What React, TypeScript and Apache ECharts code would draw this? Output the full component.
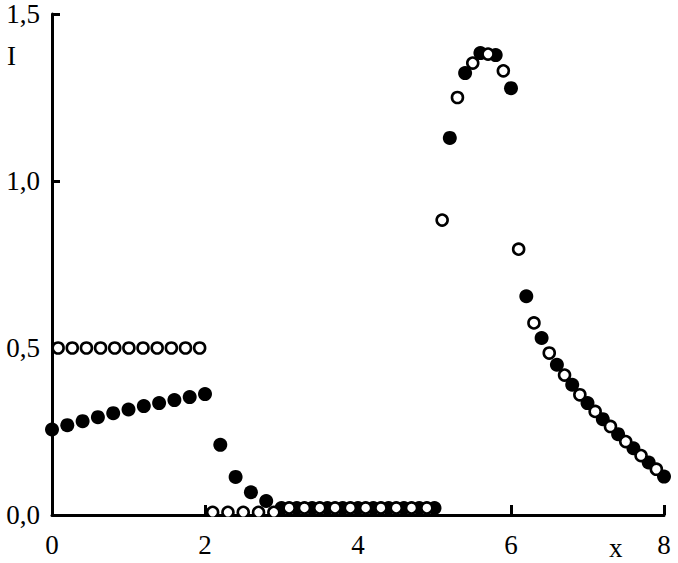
import React, { useEffect, useRef } from "react";
import * as echarts from "echarts";

// Filled circles: [x, I]
const filledPoints: [number, number][] = [
  [0, 0.256], [0.2, 0.269], [0.4, 0.281], [0.6, 0.293], [0.8, 0.305], [1.0, 0.316],
  [1.2, 0.326], [1.4, 0.335], [1.6, 0.344], [1.8, 0.353], [2.0, 0.362],
  [2.2, 0.21], [2.4, 0.114], [2.6, 0.068], [2.8, 0.042],
  [3.0, 0.021], [3.2, 0.021], [3.4, 0.021], [3.6, 0.021], [3.8, 0.021], [4.0, 0.021],
  [4.2, 0.021], [4.4, 0.021], [4.6, 0.021], [4.8, 0.021], [5.0, 0.021],
  [5.2, 1.129], [5.4, 1.323], [5.6, 1.383], [5.8, 1.377], [6.0, 1.278],
  [6.2, 0.655], [6.4, 0.53], [6.6, 0.45], [6.8, 0.39], [7.0, 0.335], [7.2, 0.287],
  [7.4, 0.242], [7.6, 0.2], [7.8, 0.157], [8.0, 0.115],
];

// Open circles: [x, I]
const openPoints: [number, number][] = [
  [0.08, 0.5], [0.265, 0.5], [0.45, 0.5], [0.635, 0.5], [0.82, 0.5], [1.005, 0.5],
  [1.19, 0.5], [1.375, 0.5], [1.56, 0.5], [1.745, 0.5], [1.93, 0.5],
  [2.1, 0.008], [2.3, 0.008], [2.5, 0.008], [2.7, 0.008], [2.9, 0.008],
  [3.1, 0.021], [3.3, 0.021], [3.5, 0.021], [3.7, 0.021], [3.9, 0.021],
  [4.1, 0.021], [4.3, 0.021], [4.5, 0.021], [4.7, 0.021], [4.9, 0.021],
  [5.1, 0.883], [5.3, 1.25], [5.5, 1.353], [5.7, 1.38], [5.9, 1.33],
  [6.1, 0.796], [6.3, 0.575], [6.5, 0.485], [6.7, 0.419], [6.9, 0.36], [7.1, 0.31],
  [7.3, 0.265], [7.5, 0.22], [7.7, 0.178], [7.9, 0.137],
];

const xTicks = { min: 0, max: 8, interval: 2 };
const yTicks = { min: 0, max: 1.5, interval: 0.5 };
const xName = "x";
const yName = "I";

const FONT = "'Liberation Serif', 'DejaVu Serif', serif";

export default function App() {
  const ref = useRef<HTMLDivElement>(null);

  useEffect(() => {
    document.body.style.margin = "0";
    if (!ref.current) return;
    const chart = echarts.init(ref.current, null, { renderer: "svg" });
    chart.setOption({
      animation: false,
      backgroundColor: "#ffffff",
      grid: { left: 52, right: 14, top: 14, bottom: 48, containLabel: false },
      xAxis: {
        type: "value",
        min: xTicks.min,
        max: xTicks.max,
        interval: xTicks.interval,
        splitLine: { show: false },
        axisLine: { show: true, lineStyle: { color: "#000", width: 3 } },
        axisTick: { show: true, inside: true, length: 10, lineStyle: { color: "#000", width: 3 } },
        axisLabel: { color: "#000", fontFamily: FONT, fontSize: 27, margin: 16 },
      },
      yAxis: {
        type: "value",
        min: yTicks.min,
        max: yTicks.max,
        interval: yTicks.interval,
        splitLine: { show: false },
        axisLine: { show: true, lineStyle: { color: "#000", width: 3 } },
        axisTick: { show: true, inside: true, length: 8, lineStyle: { color: "#000", width: 3 } },
        axisLabel: {
          color: "#000",
          fontFamily: FONT,
          fontSize: 27,
          margin: 12,
          formatter: (v: number) => v.toFixed(1).replace(".", ","),
        },
      },
      graphic: [
        {
          type: "text",
          left: 609,
          top: 534,
          style: { text: xName, fill: "#000", font: `27px ${FONT}` },
        },
        {
          type: "text",
          left: 7,
          top: 42,
          style: { text: yName, fill: "#000", font: `27px ${FONT}` },
        },
        {
          type: "rect",
          shape: { x: 205, y: 517, width: 75, height: 5 },
          style: { fill: "#fff" },
          z: 100,
        },
      ],
      series: [
        {
          type: "scatter",
          data: filledPoints,
          symbol: "circle",
          symbolSize: 14,
          itemStyle: { color: "#000", opacity: 1 },
          clip: false,
          z: 2,
        },
        {
          type: "scatter",
          data: openPoints,
          symbol: "circle",
          symbolSize: 11,
          itemStyle: { color: "#fff", borderColor: "#000", borderWidth: 2.6, opacity: 1 },
          clip: false,
          z: 3,
        },
      ],
    });
    return () => chart.dispose();
  }, []);

  return <div ref={ref} style={{ width: 678, height: 563 }} />;
}
